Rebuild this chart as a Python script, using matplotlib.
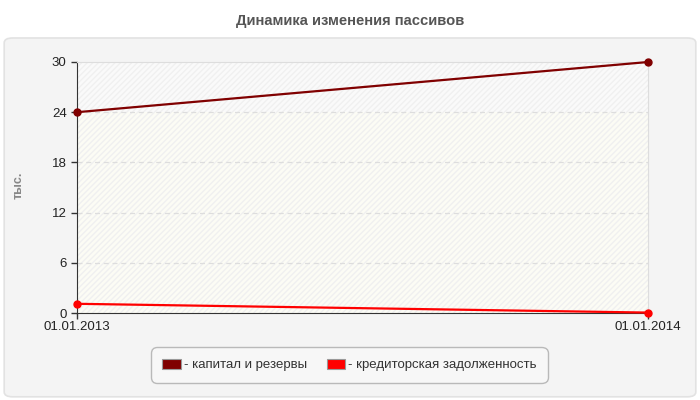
import matplotlib
matplotlib.use("Agg")
import matplotlib.pyplot as plt
import matplotlib.patches as mpatches
from matplotlib.patches import FancyBboxPatch

# data
dates = ["01.01.2013", "01.01.2014"]
capital = [24.0, 30.0]
creditors = [1.1, 0.05]
series_names = ["- капитал и резервы", "- кредиторская задолженность"]
colors = ["#800000", "#ff0000"]
yticks = [0, 6, 12, 18, 24, 30]

fig = plt.figure(figsize=(7, 4), dpi=100)
fig.patch.set_facecolor("white")

# rounded gray panel behind the chart
panel = FancyBboxPatch((0.006, 0.008), 0.988, 0.897,
                       boxstyle="round,pad=0,rounding_size=0.012",
                       transform=fig.transFigure, facecolor="#f4f4f4",
                       edgecolor="#e2e2e2", linewidth=1.2, zorder=-5)
fig.patches.append(panel)

fig.text(0.5, 0.948, "Динамика изменения пассивов", ha="center", va="center",
         fontsize=10.6, fontweight="bold", color="#555555", family="Liberation Sans")

ax = fig.add_axes([0.110, 0.2175, 0.816, 0.6275])
ax.set_facecolor("#fafafa")
x = list(range(len(dates)))

# background bands with faint hatching
ax.axhspan(0, 24, facecolor="#fcfcf5", edgecolor="none", zorder=0)
ax.axhspan(0, 30, facecolor="none", edgecolor="#f0f0f0", hatch="//////",
           linewidth=0, zorder=0.5)

for yv in yticks[1:-1]:
    ax.axhline(yv, color="#dddddd", linestyle=(0, (4, 3)), linewidth=0.9, zorder=1)

ax.plot(x, capital, color=colors[0], linewidth=1.6, marker="o", markersize=5,
        zorder=3, clip_on=False)
ax.plot(x, creditors, color=colors[1], linewidth=1.6, marker="o", markersize=5,
        zorder=3, clip_on=False)

ax.set_xlim(0, 1)
ax.set_ylim(0, 30)
ax.set_yticks(yticks)
ax.set_xticks(x)
ax.set_xticklabels(dates)
ax.tick_params(axis="both", direction="out", length=4, width=1, color="#333333",
               labelsize=9.5, labelcolor="#222222")
ax.tick_params(axis="x", pad=2)
for lbl in ax.get_xticklabels() + ax.get_yticklabels():
    lbl.set_family("Liberation Sans")

for side in ["top", "right"]:
    ax.spines[side].set_color("#dddddd")
for side in ["left", "bottom"]:
    ax.spines[side].set_color("#333333")

fig.text(0.026, 0.537, "тыс.", rotation=90, ha="center", va="center",
         fontsize=9, fontweight="bold", color="#888888", family="Liberation Sans")

handles = [mpatches.Patch(facecolor=c, edgecolor="#999999", linewidth=0.8) for c in colors]
leg = fig.legend(handles, series_names, loc="center", bbox_to_anchor=(0.499, 0.0875),
                 ncol=2, frameon=True, handlelength=1.4, handleheight=0.8,
                 handletextpad=0.2, columnspacing=1.5, borderpad=0.7,
                 prop={"family": "Liberation Sans", "size": 9.5})
leg.get_frame().set_facecolor("#f9f9f9")
leg.get_frame().set_edgecolor("#aaaaaa")
leg.get_frame().set_boxstyle("round,pad=0.2,rounding_size=0.5")
for t in leg.get_texts():
    t.set_color("#333333")

fig.savefig("out.png", dpi=100, facecolor=fig.get_facecolor())
